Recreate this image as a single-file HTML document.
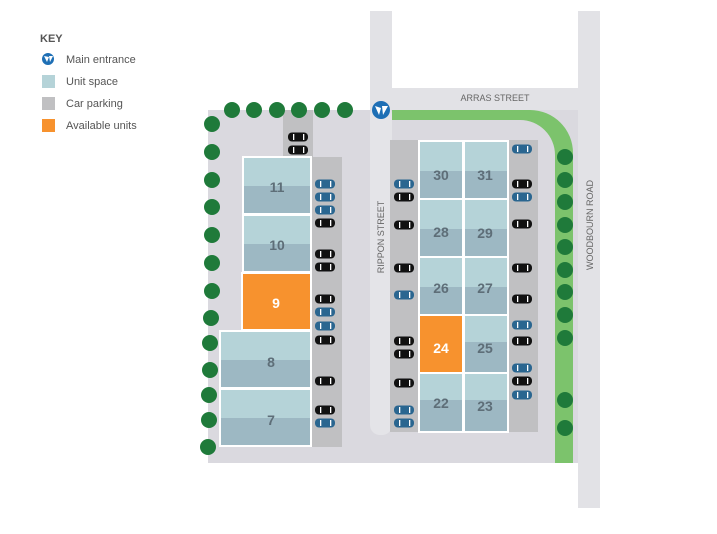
<!DOCTYPE html>
<html><head><meta charset="utf-8"><style>
body{margin:0;background:#fff;}
svg{display:block;font-family:"Liberation Sans",sans-serif;}
</style></head><body>
<svg width="717" height="534" viewBox="0 0 717 534" xmlns="http://www.w3.org/2000/svg">
<defs>
<g id="cb"><rect x="-10" y="-4.5" width="20" height="9" rx="4" fill="#111"/><rect x="-5" y="-3" width="1.3" height="6" fill="#fff"/><rect x="5" y="-3" width="1.3" height="6" fill="#fff"/></g>
<g id="cu"><rect x="-10" y="-4.5" width="20" height="9" rx="4" fill="#2a6690"/><rect x="-5" y="-3" width="1.3" height="6" fill="#fff"/><rect x="5" y="-3" width="1.3" height="6" fill="#fff"/></g>
</defs>
<!-- key -->
<text x="40" y="42" font-size="11" font-weight="bold" fill="#555">KEY</text>
<circle cx="48" cy="59" r="6" fill="#1e6fb5"/><path d="M44 56 L47 62 L49 57 Z M49 56 L53 56 L50 62 Z" fill="#fff"/>
<text x="66" y="63" font-size="11" fill="#555">Main entrance</text>
<rect x="42" y="75" width="13" height="13" fill="#b5d3d8"/><text x="66" y="85" font-size="11" fill="#555">Unit space</text>
<rect x="42" y="97" width="13" height="13" fill="#c0c0c2"/><text x="66" y="107" font-size="11" fill="#555">Car parking</text>
<rect x="42" y="119" width="13" height="13" fill="#f7922e"/><text x="66" y="129" font-size="11" fill="#555">Available units</text>
<!-- streets -->
<rect x="370" y="11" width="22" height="100" fill="#e2e2e6"/>
<rect x="578" y="11" width="22" height="497" fill="#e2e2e6"/>
<rect x="392" y="88" width="186" height="22" fill="#e2e2e6"/>
<!-- site -->
<rect x="208" y="110" width="370" height="353" fill="#dad9df"/>
<!-- green -->
<path d="M392 110 H530 A43 43 0 0 1 573 153 V463 H555 V155 A35 35 0 0 0 520 120 H392 Z" fill="#7cc36c"/>
<rect x="370" y="105" width="22" height="330" rx="10" fill="#e4e4e8"/>
<!-- parking -->
<rect x="283" y="110" width="30" height="50" fill="#c0c0c2"/>
<rect x="311" y="157" width="31" height="290" fill="#c0c0c2"/>
<rect x="390" y="140" width="30" height="292" fill="#c0c0c2"/>
<rect x="507" y="140" width="31" height="292" fill="#c0c0c2"/>
<!-- units -->
<g stroke="#fff" stroke-width="2">
<rect x="243" y="157" width="68" height="57" fill="#b5d3d8"/><rect x="244" y="186" width="66" height="27" fill="#9db8c3" stroke="none"/>
<rect x="243" y="215" width="68" height="57" fill="#b5d3d8"/><rect x="244" y="244" width="66" height="27" fill="#9db8c3" stroke="none"/>
<rect x="242" y="273" width="69" height="57" fill="#f7922e"/>
<rect x="220" y="331" width="91" height="57" fill="#b5d3d8"/><rect x="221" y="360" width="89" height="27" fill="#9db8c3" stroke="none"/>
<rect x="220" y="389" width="91" height="57" fill="#b5d3d8"/><rect x="221" y="418" width="89" height="27" fill="#9db8c3" stroke="none"/>
</g>
<g stroke="#fff" stroke-width="2">
<rect x="419" y="141" width="44" height="58" fill="#b5d3d8"/><rect x="464" y="141" width="44" height="58" fill="#b5d3d8"/>
<rect x="419" y="199" width="44" height="58" fill="#b5d3d8"/><rect x="464" y="199" width="44" height="58" fill="#b5d3d8"/>
<rect x="419" y="257" width="44" height="58" fill="#b5d3d8"/><rect x="464" y="257" width="44" height="58" fill="#b5d3d8"/>
<rect x="419" y="315" width="44" height="58" fill="#f7922e"/><rect x="464" y="315" width="44" height="58" fill="#b5d3d8"/>
<rect x="419" y="373" width="44" height="59" fill="#b5d3d8"/><rect x="464" y="373" width="44" height="59" fill="#b5d3d8"/>
</g>
<g fill="#9db8c3">
<rect x="420" y="171" width="42" height="27"/><rect x="465" y="171" width="42" height="27"/>
<rect x="420" y="229" width="42" height="27"/><rect x="465" y="229" width="42" height="27"/>
<rect x="420" y="287" width="42" height="27"/><rect x="465" y="287" width="42" height="27"/>
<rect x="465" y="342" width="42" height="30"/>
<rect x="420" y="400" width="42" height="31"/><rect x="465" y="400" width="42" height="31"/>
</g>
<g font-size="14" font-weight="bold" fill="#5e6e78" text-anchor="middle">
<text x="277" y="192">11</text><text x="277" y="250">10</text><text x="276" y="308" fill="#fff">9</text>
<text x="271" y="367">8</text><text x="271" y="425">7</text>
<text x="441" y="180">30</text><text x="485" y="180">31</text>
<text x="441" y="237">28</text><text x="485" y="238">29</text>
<text x="441" y="293">26</text><text x="485" y="293">27</text>
<text x="441" y="353" fill="#fff">24</text><text x="485" y="353">25</text>
<text x="441" y="408">22</text><text x="485" y="411">23</text>
</g>
<!-- cars -->
<use href="#cb" x="298" y="137"/><use href="#cb" x="298" y="150"/>
<use href="#cu" x="325" y="184"/><use href="#cu" x="325" y="197"/><use href="#cu" x="325" y="210"/><use href="#cb" x="325" y="223"/>
<use href="#cb" x="325" y="254"/><use href="#cb" x="325" y="267"/><use href="#cb" x="325" y="299"/><use href="#cu" x="325" y="312"/>
<use href="#cu" x="325" y="326"/><use href="#cb" x="325" y="340"/><use href="#cb" x="325" y="381"/><use href="#cb" x="325" y="410"/><use href="#cu" x="325" y="423"/>
<use href="#cu" x="404" y="184"/><use href="#cb" x="404" y="197"/><use href="#cb" x="404" y="225"/><use href="#cb" x="404" y="268"/>
<use href="#cu" x="404" y="295"/><use href="#cb" x="404" y="341"/><use href="#cb" x="404" y="354"/><use href="#cb" x="404" y="383"/>
<use href="#cu" x="404" y="410"/><use href="#cu" x="404" y="423"/>
<use href="#cu" x="522" y="149"/><use href="#cb" x="522" y="184"/><use href="#cu" x="522" y="197"/><use href="#cb" x="522" y="224"/>
<use href="#cb" x="522" y="268"/><use href="#cb" x="522" y="299"/><use href="#cu" x="522" y="325"/><use href="#cb" x="522" y="341"/>
<use href="#cu" x="522" y="368"/><use href="#cb" x="522" y="381"/><use href="#cu" x="522" y="395"/>
<!-- trees -->
<g fill="#1f7a3a">
<circle cx="232" cy="110" r="8"/><circle cx="254" cy="110" r="8"/><circle cx="277" cy="110" r="8"/><circle cx="299" cy="110" r="8"/><circle cx="322" cy="110" r="8"/><circle cx="345" cy="110" r="8"/>
<circle cx="212" cy="124" r="8"/><circle cx="212" cy="152" r="8"/><circle cx="212" cy="180" r="8"/><circle cx="212" cy="207" r="8"/><circle cx="212" cy="235" r="8"/><circle cx="212" cy="263" r="8"/><circle cx="212" cy="291" r="8"/><circle cx="211" cy="318" r="8"/><circle cx="210" cy="343" r="8"/><circle cx="210" cy="370" r="8"/><circle cx="209" cy="395" r="8"/><circle cx="209" cy="420" r="8"/><circle cx="208" cy="447" r="8"/>
<circle cx="565" cy="157" r="8"/><circle cx="565" cy="180" r="8"/><circle cx="565" cy="202" r="8"/><circle cx="565" cy="225" r="8"/><circle cx="565" cy="247" r="8"/><circle cx="565" cy="270" r="8"/><circle cx="565" cy="292" r="8"/><circle cx="565" cy="315" r="8"/><circle cx="565" cy="338" r="8"/><circle cx="565" cy="400" r="8"/><circle cx="565" cy="428" r="8"/>
</g>
<!-- entrance -->
<circle cx="381" cy="110" r="9" fill="#1e6fb5"/><path d="M375 106 L379 115 L381 108 Z M382 106 L388 106 L383 115 Z" fill="#fff"/>
<!-- labels -->
<text x="495" y="101" font-size="9" fill="#666" text-anchor="middle">ARRAS STREET</text>
<text transform="translate(384,237) rotate(-90)" font-size="9" fill="#666" text-anchor="middle">RIPPON STREET</text>
<text transform="translate(593,225) rotate(-90)" font-size="9" fill="#666" text-anchor="middle">WOODBOURN ROAD</text>
</svg>
</body></html>
